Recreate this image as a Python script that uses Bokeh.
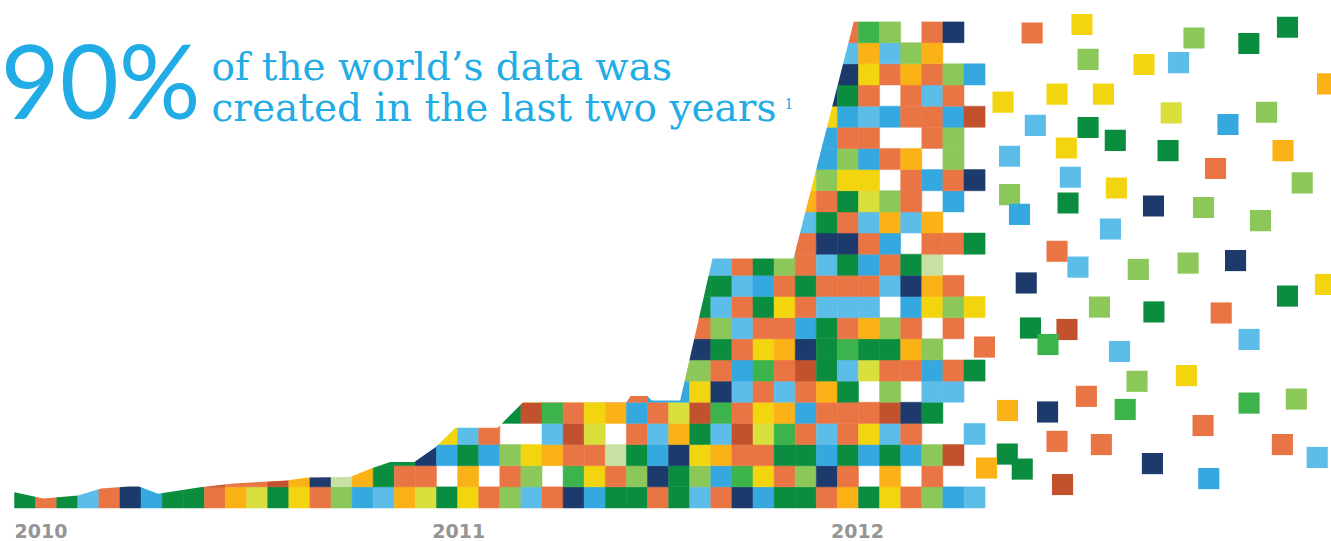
from bokeh.plotting import figure
from bokeh.models import ColumnDataSource, Label, Range1d
from bokeh.embed import file_html
from bokeh.resources import INLINE
from bokeh.core.properties import value

# ---- colour codes used by the mosaic ----
palette = {
    "G": "#0b8d3f",  # dark green
    "M": "#3db44b",  # medium green
    "L": "#8cc75a",  # light green
    "P": "#c6e1a2",  # pale green
    "Y": "#f2d50f",  # yellow
    "Z": "#d9df3c",  # lime
    "O": "#fbb216",  # amber
    "R": "#ea7544",  # orange
    "B": "#c2522e",  # brick
    "S": "#5dbde9",  # light blue
    "C": "#35a8e0",  # medium blue
    "N": "#1c3b6c",  # navy
}

# ---- cell colours per column, bottom row first (W = empty cell) ----
column_cells = [
    "G", "R", "G", "S", "R", "NN", "C", "G", "G", "RB",
    "OR", "ZR", "GB", "YO", "RN", "LP", "CO", "SGG", "ORG", "ZRN",
    "GWCY", "YOGS", "RWCR", "LRLWG", "SLYWBY", "RWOSMR", "NMRBRO", "CYRZYO", "GRPWOR", "GLGRCR",
    "RNCSRC", "GGNOZCLN", "SLYGBYLNRGGS", "RCOSMNRGLSGS", "NMRBRSCRSRSR", "CYRZYRMYRGCG",
    "GRGMOSRORYRL", "GLGRCRBNCRGRRSOY", "RNCSROGGGSRSNGRLCCYN",
    "ORGRRGSMRSRGNRGYLRCGNSR", "GWCYRWZGOSRCRSZYCRSRYOM", "YOGSBLRGLWSRCOLWRWCWRSL",
    "RWCRNWRORCNGWSRROWRROLW", "LRLWGSCLWYOPROWCWRRSROR", "CWBWWSRWRLRWRWCRLLCRLWN",
    "SWWSWWGWWYWWGWWNWWBWCWW",
]

# ---- top outline of the area (column units, row units) ----
profile_x = [0.0, 1.37, 3.0, 4.1, 5.4, 5.9, 6.8, 8.8, 10.4, 12.9, 13.9, 15.9, 16.9, 17.8,
             18.95, 19.95, 20.9, 22.9, 24.1, 29.0, 29.2, 30.0, 30.2, 31.55, 33.08, 36.92,
             39.78, 46.0]
profile_y = [0.75, 0.45, 0.59, 0.92, 1.02, 1.02, 0.67, 0.98, 1.16, 1.3, 1.44, 1.46, 1.87, 2.17,
             2.17, 2.87, 3.8, 3.8, 5.0, 5.0, 5.3, 5.3, 5.08, 5.08, 11.8, 11.8,
             23.0, 23.0]

# ---- scattered squares to the right ----
scatter_x = [48.23, 50.59, 50.88, 53.53, 55.17, 55.90, 58.50, 60.33, 62.23, 46.85,
             49.41, 51.61, 54.82, 57.51, 59.34, 48.38, 50.88, 52.17, 49.85, 54.67,
             60.12, 47.16, 56.92, 61.03, 50.04, 52.22, 47.16, 47.63, 49.93, 53.98,
             56.35, 59.05, 51.94, 49.41, 50.40, 53.26, 55.62, 57.87, 47.95, 62.13,
             60.33, 51.42, 54.00, 57.19, 48.15, 49.88, 48.98, 58.51, 52.37, 53.20,
             55.54, 50.80, 58.51, 60.75, 47.06, 48.96, 52.64, 56.33, 49.41, 51.51,
             60.09, 61.74, 47.05, 47.76, 46.07, 53.93, 56.60, 49.67, 45.97]
scatter_y = [22.46, 22.86, 21.21, 20.97, 21.06, 22.22, 21.96, 22.73, 20.05, 19.19,
             19.57, 19.57, 18.68, 18.13, 18.71, 18.09, 17.99, 17.38, 17.02, 16.90,
             16.90, 16.63, 16.05, 15.37, 15.64, 15.13, 14.82, 13.88, 14.42, 14.28,
             14.21, 13.59, 13.19, 12.14, 11.39, 11.28, 11.58, 11.70, 10.64, 10.57,
             10.02, 9.50, 9.27, 9.22, 8.51, 8.44, 7.73, 7.97, 7.40, 5.99,
             6.26, 5.28, 4.96, 5.15, 4.61, 4.54, 4.66, 3.90, 3.15, 3.00,
             3.00, 2.39, 2.55, 1.84, 1.89, 2.10, 1.39, 1.11, 7.61]
scatter_c = ["R", "Y", "L", "Y", "S", "L", "G", "G", "O", "Y",
             "Y", "Y", "Z", "C", "L", "S", "G", "G", "Y", "G",
             "O", "S", "R", "L", "S", "Y", "L", "C", "G", "N",
             "L", "L", "S", "R", "S", "L", "L", "N", "N", "Y",
             "G", "L", "G", "R", "G", "B", "M", "S", "S", "L",
             "Y", "R", "M", "L", "O", "N", "M", "R", "R", "R",
             "R", "S", "G", "G", "O", "N", "C", "B", "R"]

# ---- time labels ----
year_labels = ["2010", "2011", "2012"]
year_pos = [0.0, 19.8, 38.7]

# ---- texts ----
headline_big = "90%"
headline_line1 = "of the world\u2019s data was"
headline_line2 = "created in the last two years"
footnote_mark = "1"

BLUE = "#22ace6"

cx, cy, cc = [], [], []
for c, cells in enumerate(column_cells):
    for r, code in enumerate(cells):
        if code != "W":
            cx.append(c + 0.5)
            cy.append(r + 0.5)
            cc.append(palette[code])
cells_src = ColumnDataSource(dict(x=cx, y=cy, color=cc))

scatter_src = ColumnDataSource(dict(x=scatter_x, y=scatter_y,
                                    color=[palette[k] for k in scatter_c]))

p = figure(width=1331, height=541,
           x_range=Range1d(-0.6635, 62.417), y_range=Range1d(-1.5839, 23.995),
           output_backend="svg", toolbar_location=None, min_border=0,
           x_axis_location=None, y_axis_location=None,
           outline_line_color=None, background_fill_color="white",
           border_fill_color="white")
p.grid.visible = False

p.rect(x="x", y="y", width=1, height=1, source=cells_src,
       fill_color="color", line_color="color", line_width=0.5)

# white cover above the area outline
mask_x = [-1.0] + profile_x + [46.0, -1.0]
mask_y = [profile_y[0]] + profile_y + [30.0, 30.0]
p.patch(mask_x, mask_y, fill_color="white", line_color=None)

p.rect(x="x", y="y", width=1, height=1, source=scatter_src,
       fill_color="color", line_color=None)

p.text(x=year_pos, y=[-1.10] * len(year_pos), text=year_labels,
       text_font=value("DejaVu Sans"), text_font_style="bold",
       text_font_size="19px", text_color="#959595",
       text_align="left", text_baseline="alphabetic")

p.add_layout(Label(x=0, y=461.8, x_units="screen", y_units="screen",
                   text=headline_big, text_font="Lato", text_font_size="102px",
                   text_color=BLUE, text_baseline="alphabetic"))
p.add_layout(Label(x=211, y=475, x_units="screen", y_units="screen",
                   text=headline_line1, text_font="DejaVu Serif", text_font_size="39px",
                   text_color=BLUE, text_baseline="alphabetic"))
p.add_layout(Label(x=211, y=434.3, x_units="screen", y_units="screen",
                   text=headline_line2, text_font="DejaVu Serif", text_font_size="39px",
                   text_color=BLUE, text_baseline="alphabetic"))
p.add_layout(Label(x=784, y=438.5, x_units="screen", y_units="screen",
                   text=footnote_mark, text_font="DejaVu Serif", text_font_size="14px",
                   text_color=BLUE, text_baseline="alphabetic"))

open("out.html", "w").write(file_html(p, INLINE))
